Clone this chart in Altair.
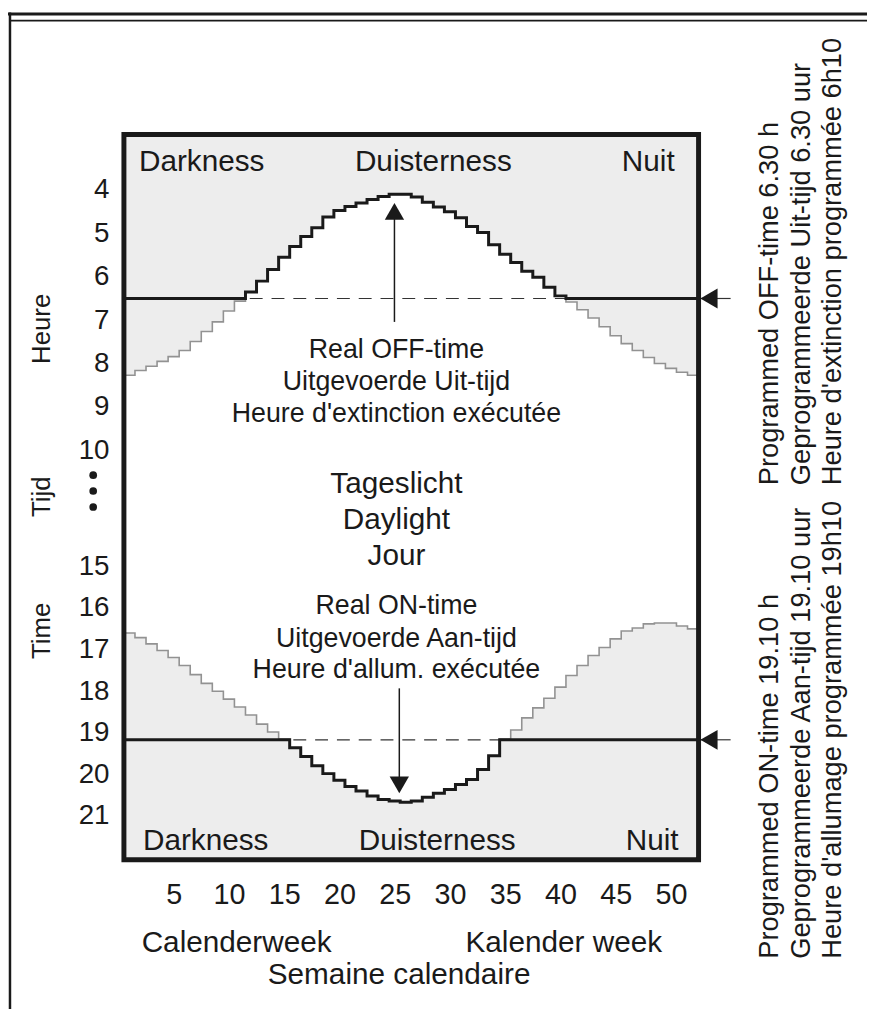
import altair as alt
import pandas as pd

FONT = "Liberation Sans"
INK = "#1a1a1a"
FILL_GRAY = "#ededed"
CURVE_GRAY = "#929292"

# ---------------- data ----------------
WEEKS = list(range(1, 53))
# sunrise (end of darkness) per calendar week, hours
SUNRISE = [8.27, 8.16, 8.06, 7.95, 7.84, 7.70, 7.49, 7.26, 7.04, 6.79,
           6.56, 6.35, 6.10, 5.83, 5.55, 5.30, 5.07, 4.87, 4.62, 4.47,
           4.38, 4.30, 4.22, 4.15, 4.10, 4.10, 4.16, 4.28, 4.39, 4.50,
           4.64, 4.84, 4.98, 5.26, 5.48, 5.67, 5.87, 6.01, 6.24, 6.44,
           6.58, 6.76, 6.95, 7.15, 7.36, 7.54, 7.70, 7.86, 8.00, 8.11,
           8.20, 8.27]
# sunset (start of darkness) per calendar week, hours
SUNSET = [16.60, 16.71, 16.86, 17.02, 17.19, 17.38, 17.60, 17.81, 18.00, 18.19,
          18.38, 18.57, 18.79, 18.98, 19.15, 19.36, 19.57, 19.79, 19.98, 20.14,
          20.29, 20.40, 20.52, 20.60, 20.64, 20.67, 20.64, 20.55, 20.45, 20.36,
          20.24, 20.12, 19.88, 19.55, 19.15, 18.93, 18.64, 18.40, 18.17, 17.90,
          17.62, 17.38, 17.14, 16.95, 16.74, 16.55, 16.48, 16.38, 16.36, 16.36,
          16.43, 16.50]
OFF_PROG = 6.5            # programmed OFF time 6.30 h
ON_PROG = 19 + 10 / 60    # programmed ON time 19.10 h

X_TICKS = [5, 10, 15, 20, 25, 30, 35, 40, 45, 50]
Y_TICKS = [4, 5, 6, 7, 8, 9, 10, 15, 16, 17, 18, 19, 20, 21]

# broken (piecewise) time axis: 4..10 then 15..21
X_DOMAIN = [0.5, 52.5]
Y_DOMAIN = [2.72, 10, 15, 22.05]
Y_RANGE = [0, 318.8, 436, 732]

# annotation texts
CENTER_TEXT = ["Darkness", "Duisterness", "Nuit",
               "Darkness", "Duisterness", "Nuit",
               "Real OFF-time", "Uitgevoerde Uit-tijd", "Heure d'extinction exécutée",
               "Tageslicht", "Daylight", "Jour",
               "Real ON-time", "Uitgevoerde Aan-tijd", "Heure d'allum. exécutée",
               "Calenderweek", "Kalender week", "Semaine calendaire"]
CENTER_X = [7.54, 28.5, 47.95, 7.9, 28.85, 48.3,
            25.16, 25.16, 25.16, 25.16, 25.16, 25.16,
            25.16, 25.16, 25.16, 10.7, 40.3, 25.4]
CENTER_Y = [3.36, 3.36, 3.36, 21.6, 21.6, 21.6,
            7.70, 8.43, 9.16, 11.45, 12.99, 14.57,
            15.95, 16.74, 17.50, 24.05, 24.05, 24.82]
CENTER_SIZE = [30, 30, 30, 30, 30, 30,
               27, 27, 27, 30, 30, 30,
               27, 27, 27, 30, 30, 30]

SIDE_TEXT = ["Programmed OFF-time 6.30 h", "Geprogrammeerde Uit-tijd 6.30 uur",
             "Heure d'extinction programmée 6h10",
             "Programmed ON-time 19.10 h", "Geprogrammeerde Aan-tijd 19.10 uur",
             "Heure d'allumage programmée 19h10"]
SIDE_X = [59.0, 61.9, 64.7, 59.0, 61.9, 64.7]
SIDE_Y = [11.5, 11.5, 11.5, 24.43, 24.43, 24.43]

YTITLE_TEXT = ["Heure", "Tijd", "Time"]
YTITLE_X = [-6.94, -6.94, -6.94]
YTITLE_Y = [7.2, 12.0, 16.55]

DOTS_X = [-2.28, -2.28, -2.28]
DOTS_Y = [11.07, 11.75, 12.44]

# ---------------- tables ----------------
edges = [w - 0.5 for w in WEEKS] + [WEEKS[-1] + 0.5]
steps = pd.DataFrame({
    "x": edges,
    "rise": SUNRISE + [SUNRISE[-1]],
    "set": SUNSET + [SUNSET[-1]],
})
steps["off"] = steps["rise"].clip(upper=OFF_PROG)
steps["on"] = steps["set"].clip(lower=ON_PROG)
steps["top"] = Y_DOMAIN[0]
steps["bottom"] = Y_DOMAIN[-1]

prog = pd.DataFrame({"h": [OFF_PROG, ON_PROG], "x0": [52.6, 52.6],
                     "x1": [55.4, 55.4], "tip": [53.44, 53.44]})

XS = alt.Scale(domain=X_DOMAIN, nice=False, zero=False)
YS = alt.Scale(domain=Y_DOMAIN, range=Y_RANGE, nice=False, zero=False)
XAXIS = alt.Axis(values=X_TICKS, ticks=False, tickSize=0, domain=False, grid=False,
                 labelFont=FONT, labelFontSize=29, labelColor=INK, labelPadding=21,
                 labelFlush=False, labelOverlap=False, title=None)
YAXIS = alt.Axis(values=Y_TICKS, ticks=False, tickSize=0, domain=False, grid=False,
                 labelFont=FONT, labelFontSize=28, labelColor=INK, labelPadding=15,
                 labelBaseline="middle", labelFlush=False, labelOverlap=False, title=None)


def X(f):
    return alt.X(f, type="quantitative", scale=XS, axis=XAXIS)


def Y(f):
    return alt.Y(f, type="quantitative", scale=YS, axis=YAXIS)


base = alt.Chart(steps)

top_fill = base.mark_area(interpolate="step-after", color=FILL_GRAY).encode(
    x=X("x"), y=Y("rise"), y2=alt.Y2("top"))
bottom_fill = base.mark_area(interpolate="step-after", color=FILL_GRAY).encode(
    x=X("x"), y=Y("set"), y2=alt.Y2("bottom"))

dashed = alt.Chart(prog).mark_rule(color="#333333", strokeWidth=1.2,
                                   strokeDash=[13, 9]).encode(y=Y("h"))

rise_line = base.mark_line(interpolate="step-after", color=CURVE_GRAY,
                           strokeWidth=1.6).encode(x=X("x"), y=Y("rise"))
set_line = base.mark_line(interpolate="step-after", color=CURVE_GRAY,
                          strokeWidth=1.6).encode(x=X("x"), y=Y("set"))
off_line = base.mark_line(interpolate="step-after", color=INK,
                          strokeWidth=3).encode(x=X("x"), y=Y("off"))
on_line = base.mark_line(interpolate="step-after", color=INK,
                         strokeWidth=3).encode(x=X("x"), y=Y("on"))

# programmed-time arrows on the right edge
side_rule = alt.Chart(prog).mark_rule(color="#333333", strokeWidth=1.2).encode(
    x=X("x0"), x2=alt.X2("x1"), y=Y("h"))
side_head = alt.Chart(prog).mark_point(shape="triangle-left", filled=True, size=400,
                                       color=INK, opacity=1).encode(
    x=X("tip"), y=Y("h"))

# real OFF / ON arrows
arrows = pd.DataFrame({"x": [24.98, 25.42], "y0": [4.6, 17.93], "y1": [7.04, 20.1],
                       "head": [4.49, 20.25]})
arrow_shaft = alt.Chart(arrows).mark_rule(color=INK, strokeWidth=1.5).encode(
    x=X("x"), y=Y("y0"), y2=alt.Y2("y1"))
up_head = alt.Chart(arrows.iloc[[0]]).mark_point(shape="triangle-up", filled=True,
                                                 size=380, color=INK, opacity=1).encode(
    x=X("x"), y=Y("head"))
down_head = alt.Chart(arrows.iloc[[1]]).mark_point(shape="triangle-down", filled=True,
                                                   size=380, color=INK, opacity=1).encode(
    x=X("x"), y=Y("head"))

center_df = pd.DataFrame({"text": CENTER_TEXT, "x": CENTER_X, "y": CENTER_Y,
                          "size": CENTER_SIZE})
center_txt = alt.Chart(center_df).mark_text(font=FONT, color=INK, align="center",
                                            baseline="middle").encode(
    x=X("x"), y=Y("y"), text="text:N", size=alt.Size("size:Q", scale=None))

side_df = pd.DataFrame({"text": SIDE_TEXT, "x": SIDE_X, "y": SIDE_Y})
side_txt = alt.Chart(side_df).mark_text(font=FONT, color=INK, align="left",
                                        baseline="middle", angle=270,
                                        fontSize=27.5).encode(
    x=X("x"), y=Y("y"), text="text:N")

ytitle_df = pd.DataFrame({"text": YTITLE_TEXT, "x": YTITLE_X, "y": YTITLE_Y})
ytitle_txt = alt.Chart(ytitle_df).mark_text(font=FONT, color=INK, align="center",
                                            baseline="middle", angle=270,
                                            fontSize=26).encode(
    x=X("x"), y=Y("y"), text="text:N")

dots = alt.Chart(pd.DataFrame({"x": DOTS_X, "y": DOTS_Y})).mark_point(
    shape="circle", filled=True, size=60, color=INK, opacity=1).encode(
    x=X("x"), y=Y("y"))

# thick frame around the plot
frame = alt.Chart(pd.DataFrame({"k": [0]})).mark_rect(
    fill=None, stroke=INK, strokeWidth=5).encode(
    x=alt.X(datum=X_DOMAIN[0], type="quantitative", scale=XS, axis=XAXIS),
    x2=alt.X2(datum=X_DOMAIN[1]),
    y=alt.Y(datum=Y_DOMAIN[0], type="quantitative", scale=YS, axis=YAXIS),
    y2=alt.Y2(datum=Y_DOMAIN[-1]))

# outer page border lines
one = pd.DataFrame({"k": [0]})
border_top = alt.Chart(one).mark_rule(color=INK, strokeWidth=3).encode(
    x=alt.value(-117), x2=alt.value(750), y=alt.value(-121.5))
border_top2 = alt.Chart(one).mark_rule(color=INK, strokeWidth=1.8).encode(
    x=alt.value(-115), x2=alt.value(750), y=alt.value(-115))
border_left = alt.Chart(one).mark_rule(color=INK, strokeWidth=2.5).encode(
    x=alt.value(-115), y=alt.value(-123), y2=alt.value(885))

chart = alt.layer(
    top_fill, bottom_fill, dashed, rise_line, set_line, off_line, on_line,
    side_rule, side_head, arrow_shaft, up_head, down_head,
    center_txt, side_txt, ytitle_txt, dots, frame,
    border_top, border_top2, border_left,
).properties(
    width=580, height=732,
    padding={"left": 117, "top": 123, "right": 170, "bottom": 146},
    autosize=alt.AutoSizeParams(type="none"),
    background="white",
).configure_view(strokeWidth=0)

chart.save("out.html", embed_options={"renderer": "svg", "actions": False})
